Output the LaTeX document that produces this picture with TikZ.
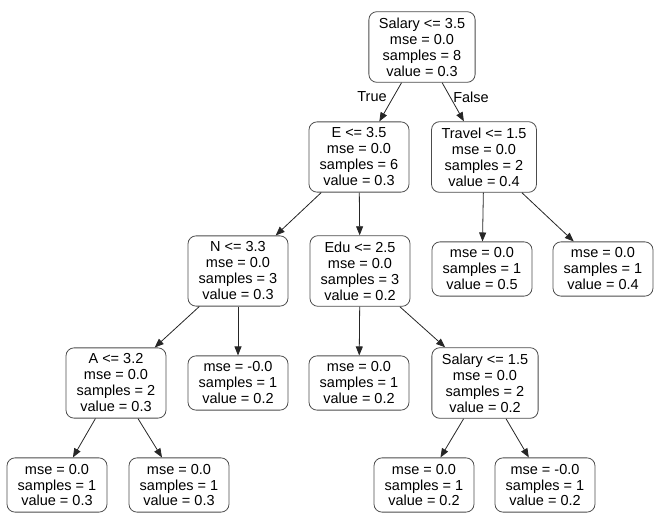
\documentclass[tikz,border=0pt]{standalone}
\usepackage{fontspec}
\setmainfont{Liberation Sans}
\usetikzlibrary{arrows.meta}
\begin{document}
\begin{tikzpicture}[x=1pt, y=-1pt,
	dnode/.style={draw=black!70, line width=0.8pt, rounded corners=8pt, align=center,
		inner xsep=10pt, inner ysep=6pt, minimum width=100pt,
		font=\fontsize{14.5}{16}\selectfont},
	branch/.style={-{Triangle[length=9pt, width=7pt]}, line width=0.8pt, black!85},
	lbl/.style={font=\fontsize{14.5}{16}\selectfont}]

		\useasboundingbox (0,0) rectangle (654,515);

		\node[dnode] (root) at (422,47) {Salary <= 3.5\\mse = 0.0\\samples = 8\\value = 0.3};
		\node[dnode] (e) at (359,157) {E <= 3.5\\mse = 0.0\\samples = 6\\value = 0.3};
		\node[dnode] (travel) at (484,157) {Travel <= 1.5\\mse = 0.0\\samples = 2\\value = 0.4};
		\node[dnode] (n) at (238,271) {N <= 3.3\\mse = 0.0\\samples = 3\\value = 0.3};
		\node[dnode] (edu) at (360,271) {Edu <= 2.5\\mse = 0.0\\samples = 3\\value = 0.2};
		\node[dnode] (t1) at (482,269) {mse = 0.0\\samples = 1\\value = 0.5};
		\node[dnode] (t2) at (603,269) {mse = 0.0\\samples = 1\\value = 0.4};
		\node[dnode] (a) at (116,383) {A <= 3.2\\mse = 0.0\\samples = 2\\value = 0.3};
		\node[dnode] (n2) at (238,383) {mse = -0.0\\samples = 1\\value = 0.2};
		\node[dnode] (edu1) at (359,383) {mse = 0.0\\samples = 1\\value = 0.2};
		\node[dnode] (sal) at (485,383) {Salary <= 1.5\\mse = 0.0\\samples = 2\\value = 0.2};
		\node[dnode] (a1) at (57,485) {mse = 0.0\\samples = 1\\value = 0.3};
		\node[dnode] (a2) at (179,485) {mse = 0.0\\samples = 1\\value = 0.3};
		\node[dnode] (s1) at (424,485) {mse = 0.0\\samples = 1\\value = 0.2};
		\node[dnode] (s2) at (545,485) {mse = -0.0\\samples = 1\\value = 0.2};

		\node[lbl] (ltrue) at (372,97) {True};
		\node[lbl] (lfalse) at (471,97) {False};

		\draw[branch] (root) -- (e);
		\draw[branch] (root) -- (travel);
		\draw[branch] (e) -- (n);
		\draw[branch] (e) -- (edu);
		\draw[branch] (travel) -- (t1);
		\draw[branch] (travel) -- (t2);
		\draw[branch] (n) -- (a);
		\draw[branch] (n) -- (n2);
		\draw[branch] (edu) -- (edu1);
		\draw[branch] (edu) -- (sal);
		\draw[branch] (a) -- (a1);
		\draw[branch] (a) -- (a2);
		\draw[branch] (sal) -- (s1);
		\draw[branch] (sal) -- (s2);
\end{tikzpicture}
\end{document}
